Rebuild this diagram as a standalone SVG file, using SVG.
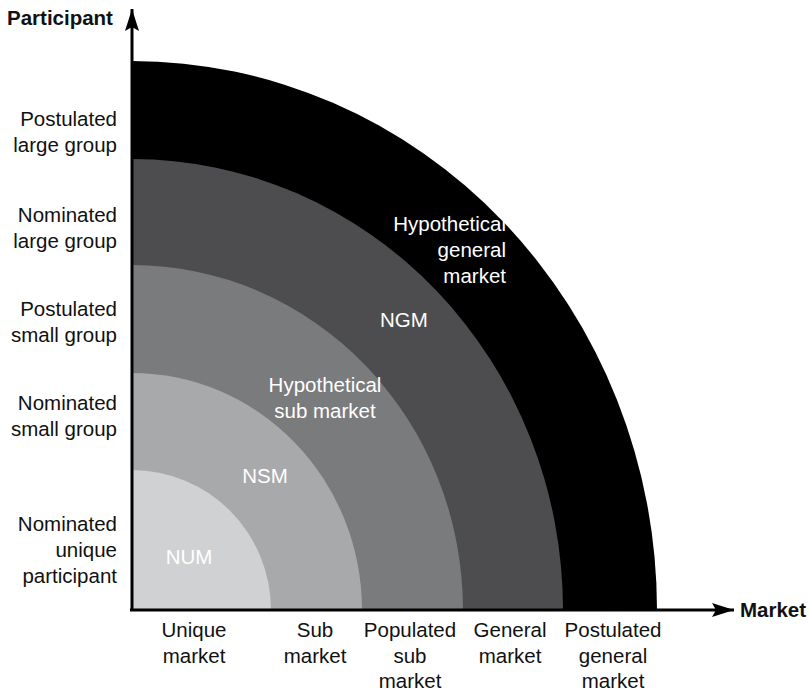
<svg xmlns="http://www.w3.org/2000/svg" width="810" height="693" viewBox="0 0 810 693">
  <style>
    text { font-family: "Liberation Sans", Arial, Helvetica, sans-serif; font-size: 20.5px; fill: #111; }
    .bold { font-weight: bold; }
    .in { fill: #fff; }
    .l { text-anchor: end; }
    .c { text-anchor: middle; }
    .axis { stroke: #000; stroke-width: 3; fill: none; }
  </style>
  <defs>
    <marker id="head" markerUnits="userSpaceOnUse" markerWidth="24" markerHeight="16" refX="22" refY="7" orient="auto">
      <path d="M0 0 L22 7 L0 14 L4 7 Z" fill="#000"/>
    </marker>
  </defs>

  <!-- Nested market zones, outermost first -->
  <g id="zone-hypothetical-general">
    <path d="M132 610 L657 610 A525 549 0 0 0 132 61 Z" fill="#000"/>
  </g>
  <g id="zone-ngm">
    <path d="M132 610 L563 610 A431 451 0 0 0 132 159 Z" fill="#4d4d4f"/>
  </g>
  <g id="zone-hypothetical-sub">
    <path d="M132 610 L463 610 A331 345 0 0 0 132 265 Z" fill="#7a7b7d"/>
  </g>
  <g id="zone-nsm">
    <path d="M132 610 L362 610 A230 237 0 0 0 132 373 Z" fill="#a8a9ab"/>
  </g>
  <g id="zone-num">
    <path d="M132 610 L271 610 A139 140 0 0 0 132 470 Z" fill="#d0d1d3"/>
  </g>

  <!-- Axes -->
  <g id="connectors">
    <line class="axis" x1="132" y1="611" x2="132" y2="9" marker-end="url(#head)"/>
    <line class="axis" x1="130" y1="610" x2="734" y2="610" marker-end="url(#head)"/>
  </g>

  <!-- Zone labels -->
  <g id="zone-labels">
    <text class="in c" x="189" y="564">NUM</text>
    <text class="in c" x="265" y="483">NSM</text>
    <text class="in c" x="325" y="392">Hypothetical</text>
    <text class="in c" x="325" y="418">sub market</text>
    <text class="in" x="380" y="327">NGM</text>
    <text class="in l" x="506" y="231">Hypothetical</text>
    <text class="in l" x="506" y="257">general</text>
    <text class="in l" x="506" y="283">market</text>
  </g>

  <!-- Axis titles -->
  <g id="axis-titles">
    <text class="bold" x="7" y="25">Participant</text>
    <text class="bold" x="740" y="617">Market</text>
  </g>

  <!-- Participant scale -->
  <g id="participant-scale">
    <text class="l" x="117" y="126">Postulated</text>
    <text class="l" x="117" y="152">large group</text>
    <text class="l" x="117" y="222">Nominated</text>
    <text class="l" x="117" y="248">large group</text>
    <text class="l" x="117" y="316">Postulated</text>
    <text class="l" x="117" y="342">small group</text>
    <text class="l" x="117" y="410">Nominated</text>
    <text class="l" x="117" y="436">small group</text>
    <text class="l" x="117" y="531">Nominated</text>
    <text class="l" x="117" y="557">unique</text>
    <text class="l" x="117" y="583">participant</text>
  </g>

  <!-- Market scale -->
  <g id="market-scale">
    <text class="c" x="194" y="637">Unique</text>
    <text class="c" x="194" y="663">market</text>
    <text class="c" x="315" y="637">Sub</text>
    <text class="c" x="315" y="663">market</text>
    <text class="c" x="410" y="637">Populated</text>
    <text class="c" x="410" y="663">sub</text>
    <text class="c" x="410" y="688">market</text>
    <text class="c" x="510" y="637">General</text>
    <text class="c" x="510" y="663">market</text>
    <text class="c" x="613" y="637">Postulated</text>
    <text class="c" x="613" y="663">general</text>
    <text class="c" x="613" y="688">market</text>
  </g>
</svg>
